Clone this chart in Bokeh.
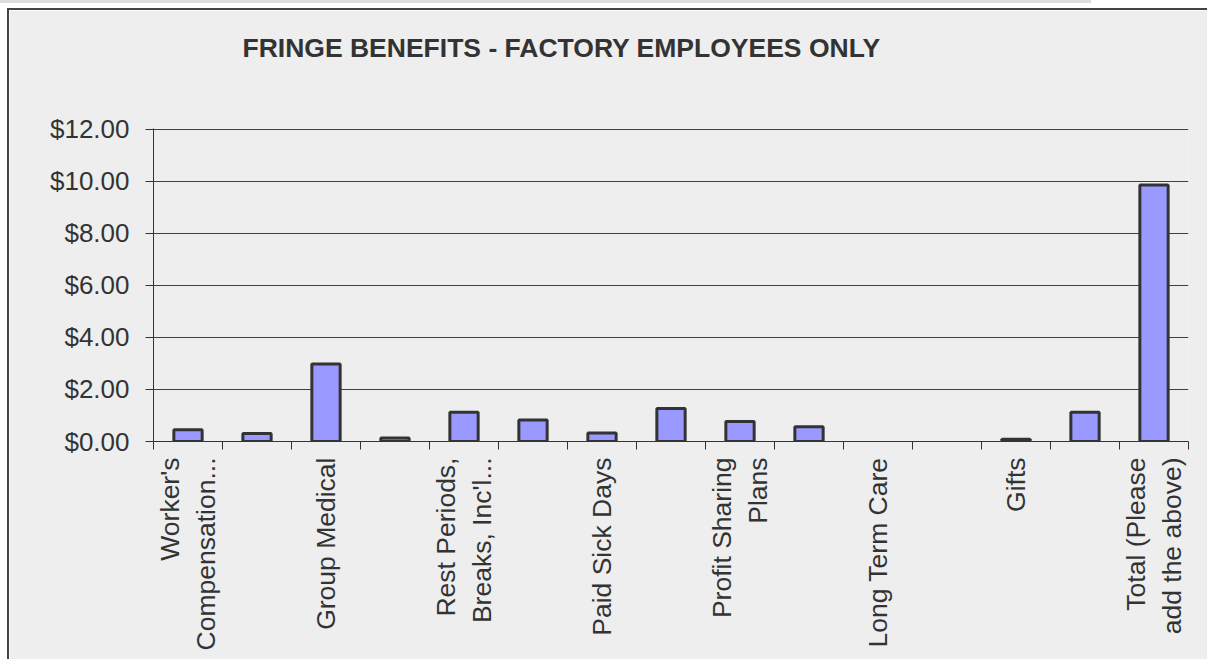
import math
from bokeh.plotting import figure
from bokeh.layouts import column
from bokeh.models import FixedTicker, NumeralTickFormatter, Range1d, ColumnDataSource, Title, Div
from bokeh.embed import file_html
from bokeh.resources import INLINE

title_text = "FRINGE BENEFITS - FACTORY EMPLOYEES ONLY"
categories = [
    "Worker's Compensation Insurance", "Unemployment Insurance", "Group Medical",
    "Group Dental", "Rest Periods, Breaks, Inc'l Lunch", "Paid Holidays",
    "Paid Sick Days", "Paid Vacations", "Profit Sharing Plans", "Pension Plans",
    "Long Term Care", "Life Insurance", "Gifts", "Other", "Total (Please add the above)",
]
values = [0.45, 0.31, 2.98, 0.13, 1.12, 0.83, 0.33, 1.27, 0.77, 0.57,
          None, None, 0.09, 1.12, 9.86]
shown_labels = {
    0: "Worker's\nCompensation...",
    2: "Group Medical",
    4: "Rest Periods,\nBreaks, Inc'l...",
    6: "Paid Sick Days",
    8: "Profit Sharing\nPlans",
    10: "Long Term Care",
    12: "Gifts",
    14: "Total (Please\nadd the above)",
}
y_ticks = [0, 2, 4, 6, 8, 10, 12]

FONT = "Liberation Sans"
BG = "#eeeeee"
INK = "#333333"

n = len(categories)
xs = [i + 0.5 for i in range(n)]
tops = [float("nan") if v is None else v for v in values]
src = ColumnDataSource(dict(x=xs, top=tops, name=categories))

fig = figure(width=1200, height=651, output_backend="svg", toolbar_location=None,
             x_range=Range1d(0, n), y_range=Range1d(0, 12.03),
             min_border_left=144, min_border_right=21, min_border_top=118,
             min_border_bottom=220, background_fill_color=BG, border_fill_color=BG,
             styles={"border-left": "2px solid #444444", "border-top": "2px solid #444444",
                     "margin-left": "7px", "margin-top": "5px"})
fig.outline_line_color = None

fig.vbar(x="x", top="top", bottom=0, width=0.41, source=src,
         fill_color="#9999ff", line_color=INK, line_width=3)

# invisible spacer between frame and title, then the title itself
spacer = Title(text=" ", text_font=FONT, text_font_size="10px", standoff=48,
               text_color=BG)
fig.add_layout(spacer, "above")
t = Title(text=title_text, align="left", offset=89, standoff=10,
          text_font=FONT, text_font_size="26.5px", text_font_style="bold",
          text_color=INK)
fig.add_layout(t, "above")

# y axis
fig.yaxis.ticker = FixedTicker(ticks=y_ticks)
fig.yaxis.formatter = NumeralTickFormatter(format="$0.00")
fig.yaxis.major_label_text_font = FONT
fig.yaxis.major_label_text_font_size = "26px"
fig.yaxis.major_label_text_color = INK
fig.yaxis.major_tick_out = 8
fig.yaxis.major_tick_in = 0
fig.yaxis.minor_tick_line_color = None
fig.yaxis.major_label_standoff = 16
fig.yaxis.axis_line_color = INK
fig.yaxis.major_tick_line_color = INK

# x axis
fig.xaxis.ticker = FixedTicker(ticks=[k + 0.5 for k in shown_labels],
                               minor_ticks=list(range(n + 1)))
fig.xaxis.major_label_overrides = {k + 0.5: v for k, v in shown_labels.items()}
fig.xaxis.major_label_orientation = math.pi / 2
fig.xaxis.major_label_text_font = FONT
fig.xaxis.major_label_text_font_size = "26.5px"
fig.xaxis.major_label_text_color = INK
fig.xaxis.major_tick_out = 0
fig.xaxis.major_tick_in = 0
fig.xaxis.minor_tick_out = 8
fig.xaxis.minor_tick_in = 0
fig.xaxis.minor_tick_line_color = INK
fig.xaxis.major_label_standoff = 8
fig.xaxis.axis_line_color = INK

fig.xgrid.grid_line_color = None
fig.ygrid.grid_line_color = "#404040"
fig.ygrid.grid_line_width = 1

strip = Div(text="", width=1091, height=3, margin=(0, 0, 0, 0),
            styles={"background-color": "#dcdcdc"})
p = column(strip, fig, spacing=0)

open("out.html", "w").write(file_html(p, INLINE))
